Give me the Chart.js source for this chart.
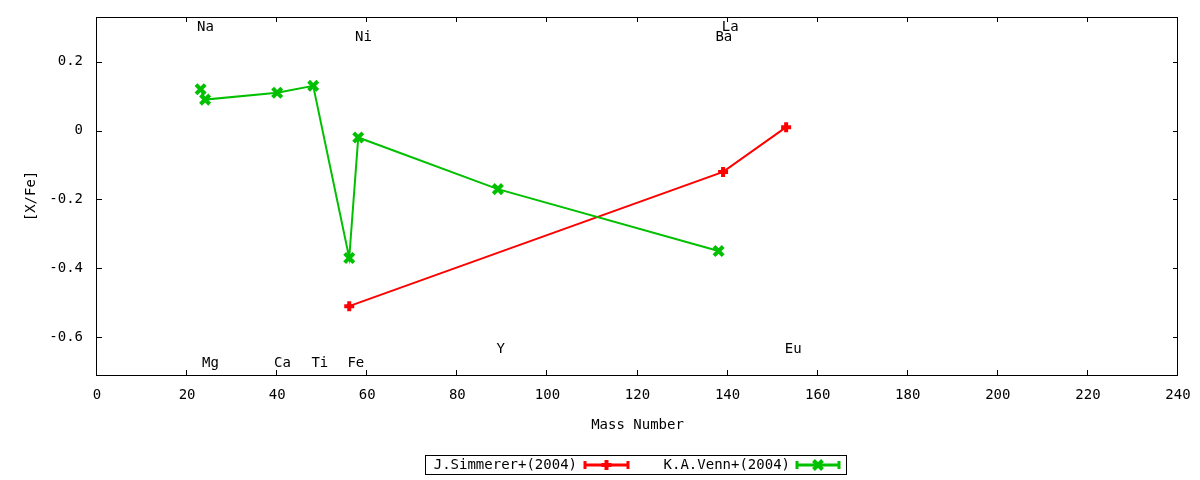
<!DOCTYPE html>
<html>
<head>
<meta charset="utf-8">
<script src="https://cdn.jsdelivr.net/npm/chart.js@4.4.1/dist/chart.umd.min.js"></script>
<style>
  html, body { margin: 0; padding: 0; background: #fff; }
  #wrap { width: 1200px; height: 480px; }
</style>
</head>
<body>
<div id="wrap"><canvas id="chartLine"></canvas></div>
<script>
// series values (mass number vs [X/Fe])
const seriesNames = ["J.Simmerer+(2004)", "K.A.Venn+(2004)"];
const simmererMass = [56, 139, 153];
const simmererAbund = [-0.51, -0.12, 0.01];
const vennMass = [23, 24, 40, 48, 56, 58, 89, 138];
const vennAbund = [0.12, 0.09, 0.11, 0.13, -0.37, -0.02, -0.17, -0.35];

// element annotations, in data coordinates
const elementNames = ["Na", "Mg", "Ca", "Ti", "Fe", "Ni", "Y", "Ba", "La", "Eu"];
const elementX = [22.2, 23.3, 39.3, 47.6, 55.6, 57.3, 88.7, 137.3, 138.7, 152.7];
const elementY = [0.30, -0.675, -0.675, -0.675, -0.675, 0.27, -0.635, 0.27, 0.30, -0.635];

// tick labels
const xTicks = [0, 20, 40, 60, 80, 100, 120, 140, 160, 180, 200, 220, 240];
const yTicks = [-0.6, -0.4, -0.2, 0, 0.2];

const RED = "#ff0000";
const GREEN = "#00c000";
const FONT = "DejaVu Sans Mono";

Chart.defaults.font.family = FONT;
Chart.defaults.font.size = 14;
Chart.defaults.color = "#000";

function toPoints(xs, ys) {
  return xs.map((x, i) => ({ x: x, y: ys[i] }));
}

function marker(ctx, style, x, y, color) {
  ctx.save();
  ctx.strokeStyle = color;
  ctx.lineWidth = 4;
  ctx.beginPath();
  if (style === "cross") {
    ctx.moveTo(x - 5, y); ctx.lineTo(x + 5, y);
    ctx.moveTo(x, y - 5); ctx.lineTo(x, y + 5);
  } else {
    ctx.moveTo(x - 4.5, y - 4.5); ctx.lineTo(x + 4.5, y + 4.5);
    ctx.moveTo(x - 4.5, y + 4.5); ctx.lineTo(x + 4.5, y - 4.5);
  }
  ctx.stroke();
  ctx.restore();
}

// gnuplot-style frame with inward ticks on all four sides
const framePlugin = {
  id: "frame",
  beforeDatasetsDraw(chart) {
    const { ctx, chartArea: a, scales: { x, y } } = chart;
    ctx.save();
    ctx.strokeStyle = "#000";
    ctx.lineWidth = 1;
    ctx.strokeRect(a.left - 0.5, a.top + 0.5, a.right - a.left, a.bottom - a.top);
    ctx.beginPath();
    x.ticks.forEach(t => {
      const px = Math.round(x.getPixelForValue(t.value)) - 0.5;
      ctx.moveTo(px, a.bottom); ctx.lineTo(px, a.bottom - 5);
      ctx.moveTo(px, a.top); ctx.lineTo(px, a.top + 5);
    });
    y.ticks.forEach(t => {
      const py = Math.round(y.getPixelForValue(t.value)) + 0.5;
      ctx.moveTo(a.left, py); ctx.lineTo(a.left + 5, py);
      ctx.moveTo(a.right, py); ctx.lineTo(a.right - 5, py);
    });
    ctx.stroke();
    ctx.restore();
  }
};

const labelPlugin = {
  id: "elementLabels",
  afterDatasetsDraw(chart) {
    const { ctx, scales: { x, y } } = chart;
    ctx.save();
    ctx.font = "14px '" + FONT + "'";
    ctx.fillStyle = "#000";
    ctx.textAlign = "left";
    ctx.textBaseline = "middle";
    elementNames.forEach((name, i) => {
      ctx.fillText(name, x.getPixelForValue(elementX[i]), y.getPixelForValue(elementY[i]));
    });
    ctx.restore();
  }
};

// boxed key under the plot
const keyPlugin = {
  id: "key",
  afterDraw(chart) {
    const ctx = chart.ctx;
    ctx.save();
    ctx.strokeStyle = "#000";
    ctx.lineWidth = 1;
    ctx.strokeRect(425.5, 455.5, 421, 19);
    ctx.font = "14px '" + FONT + "'";
    ctx.fillStyle = "#000";
    ctx.textAlign = "right";
    ctx.textBaseline = "middle";
    const entries = [
      { text: seriesNames[0], tx: 577, x0: 585, x1: 628, color: RED, style: "cross" },
      { text: seriesNames[1], tx: 790, x0: 797, x1: 839, color: GREEN, style: "crossRot" }
    ];
    entries.forEach(e => {
      ctx.fillText(e.text, e.tx, 465);
      ctx.strokeStyle = e.color;
      ctx.lineWidth = 3;
      ctx.beginPath();
      ctx.moveTo(e.x0, 465); ctx.lineTo(e.x1, 465);
      ctx.moveTo(e.x0, 461); ctx.lineTo(e.x0, 469);
      ctx.moveTo(e.x1, 461); ctx.lineTo(e.x1, 469);
      ctx.stroke();
      marker(ctx, e.style, (e.x0 + e.x1) / 2, 465, e.color);
    });
    ctx.restore();
  }
};

new Chart(document.getElementById("chartLine"), {
  type: "scatter",
  data: {
    datasets: [
      {
        label: seriesNames[0],
        data: toPoints(simmererMass, simmererAbund),
        showLine: true,
        borderColor: RED,
        backgroundColor: RED,
        borderWidth: 2,
        pointStyle: "cross",
        pointRadius: 5,
        pointBorderWidth: 4,
        pointBorderColor: RED,
        order: 2
      },
      {
        label: seriesNames[1],
        data: toPoints(vennMass, vennAbund),
        showLine: true,
        borderColor: GREEN,
        backgroundColor: GREEN,
        borderWidth: 2,
        pointStyle: "crossRot",
        pointRadius: 6.5,
        pointBorderWidth: 4,
        pointBorderColor: GREEN,
        order: 1
      }
    ]
  },
  options: {
    responsive: true,
    maintainAspectRatio: false,
    animation: false,
    devicePixelRatio: 1,
    layout: { padding: { top: 17, right: 22, left: 0, bottom: 0 } },
    plugins: { legend: { display: false }, tooltip: { enabled: false } },
    scales: {
      x: {
        type: "linear",
        min: 0,
        max: 240,
        afterBuildTicks: s => { s.ticks = xTicks.map(v => ({ value: v })); },
        afterFit: s => { s.height = 105; s.paddingLeft = 0; s.paddingRight = 0; },
        grid: { display: false, drawTicks: false },
        border: { display: false },
        ticks: { padding: 12, maxRotation: 0, autoSkip: false, callback: v => String(v) },
        title: { display: true, text: "Mass Number", padding: { top: 0, bottom: 46 } }
      },
      y: {
        type: "linear",
        min: -0.71,
        max: 0.33,
        afterBuildTicks: s => { s.ticks = yTicks.map(v => ({ value: v })); },
        afterFit: s => { s.width = 97; s.paddingTop = 0; s.paddingBottom = 0; },
        grid: { display: false, drawTicks: false },
        border: { display: false },
        ticks: { padding: 14, autoSkip: false, callback: v => String(v) },
        title: { display: true, text: "[X/Fe]", padding: { top: 23, bottom: 0 } }
      }
    }
  },
  plugins: [framePlugin, labelPlugin, keyPlugin]
});
</script>
</body>
</html>
